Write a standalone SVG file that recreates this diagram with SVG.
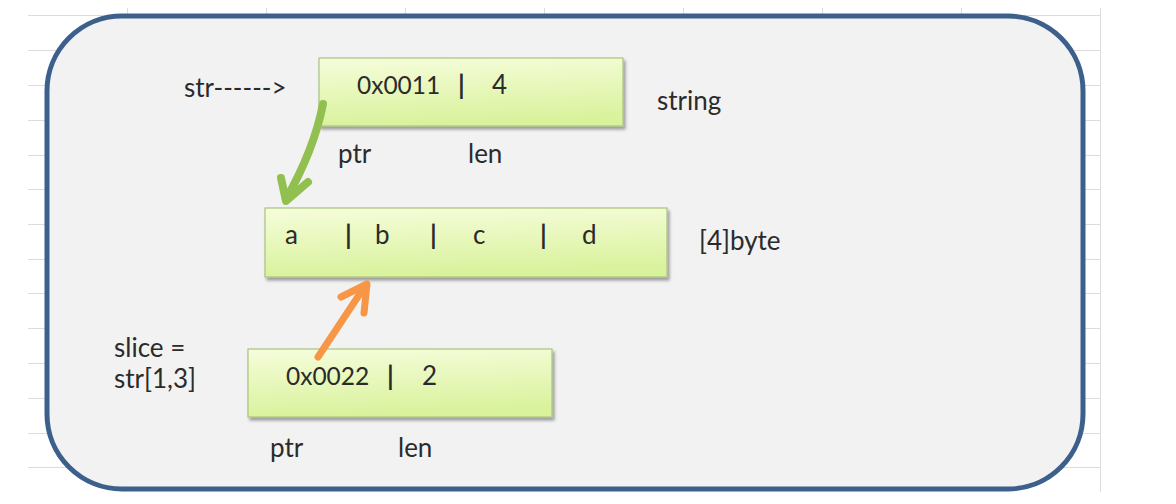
<svg xmlns="http://www.w3.org/2000/svg" width="1176" height="504" viewBox="0 0 1176 504">
  <defs>
    <linearGradient id="boxFill" x1="0" y1="0" x2="0.15" y2="1">
      <stop offset="0" stop-color="#f6fddb"/>
      <stop offset="1" stop-color="#d9f29c"/>
    </linearGradient>
    <filter id="shadow" x="-10%" y="-20%" width="120%" height="150%">
      <feDropShadow dx="2" dy="3" stdDeviation="1.8" flood-color="#000" flood-opacity="0.35"/>
    </filter>
  </defs>
  <style>
    .grid { stroke: #dcdcdc; stroke-width: 1; fill: none; }
    .frame { fill: #f2f2f2; stroke: #3c5f8c; stroke-width: 5; }
    .box { fill: url(#boxFill); stroke: #a9c47f; stroke-width: 1.2; filter: url(#shadow); }
    .t { font-family: Lato, "Open Sans", "Liberation Sans", sans-serif; font-size: 26px; fill: #2b2b2b; }
    .num { font-size: 24.5px; }
    .bar { font-weight: bold; }
    .green { fill: none; stroke: #92c050; stroke-width: 8; stroke-linecap: round; stroke-linejoin: round; }
    .orange { fill: none; stroke: #f79646; stroke-width: 7; stroke-linecap: round; stroke-linejoin: round; }
  </style>
  <rect width="1176" height="504" fill="#ffffff"/>
  <g id="grid" class="grid">
    <path d="M28,15.5H1100 M28,50.5H1100 M28,85.5H1100 M28,120.5H1100 M28,155.5H1100 M28,189.5H1100 M28,224.5H1100 M28,259.5H1100 M28,293.5H1100 M28,328.5H1100 M28,363.5H1100 M28,398.5H1100 M28,433.5H1100 M28,467.5H1100"/>
    <path d="M127.5,8V16 M266.5,8V16 M405.5,8V16 M544.5,8V16 M683.5,8V16 M822.5,8V16 M961.5,8V16 M1100.5,8V492"/>
  </g>
  <g id="frame">
    <rect class="frame" x="47" y="16" width="1036" height="473" rx="75" ry="75"/>
  </g>
  <g id="labels">
    <text class="t" x="184" y="97">str------&gt;</text>
    <text class="t" x="657" y="110">string</text>
    <text class="t" x="699" y="250">[4]byte</text>
    <text class="t" x="114" y="357">slice =</text>
    <text class="t" x="114" y="388">str[1,3]</text>
  </g>
  <g id="string-header">
    <rect class="box" x="319" y="58" width="304" height="68"/>
    <text class="t"><tspan class="num" x="357" y="94">0x0011</tspan><tspan class="bar" x="458" y="95">|</tspan><tspan x="492" y="94">4</tspan></text>
    <text class="t" x="338" y="163">ptr</text>
    <text class="t" x="468" y="163">len</text>
  </g>
  <g id="byte-array">
    <rect class="box" x="265" y="208" width="402" height="69"/>
    <text class="t"><tspan x="285" y="244">a</tspan><tspan class="bar" x="345" y="245">|</tspan><tspan x="375" y="244">b</tspan><tspan class="bar" x="430" y="245">|</tspan><tspan x="473" y="244">c</tspan><tspan class="bar" x="540" y="245">|</tspan><tspan x="582" y="244">d</tspan></text>
  </g>
  <g id="slice-header">
    <rect class="box" x="248" y="349" width="304" height="68"/>
    <text class="t"><tspan class="num" x="286" y="385">0x0022</tspan><tspan class="bar" x="387" y="386">|</tspan><tspan x="422" y="385">2</tspan></text>
    <text class="t" x="270" y="457">ptr</text>
    <text class="t" x="398" y="457">len</text>
  </g>
  <g id="connectors">
    <path class="green" d="M323,104 Q314,150 286,199"/>
    <path class="green" d="M281,178 L286,201 L308,182"/>
    <path class="orange" d="M318,357 L365,286"/>
    <path class="orange" d="M341,297 L367,284 L364,313"/>
  </g>
</svg>
